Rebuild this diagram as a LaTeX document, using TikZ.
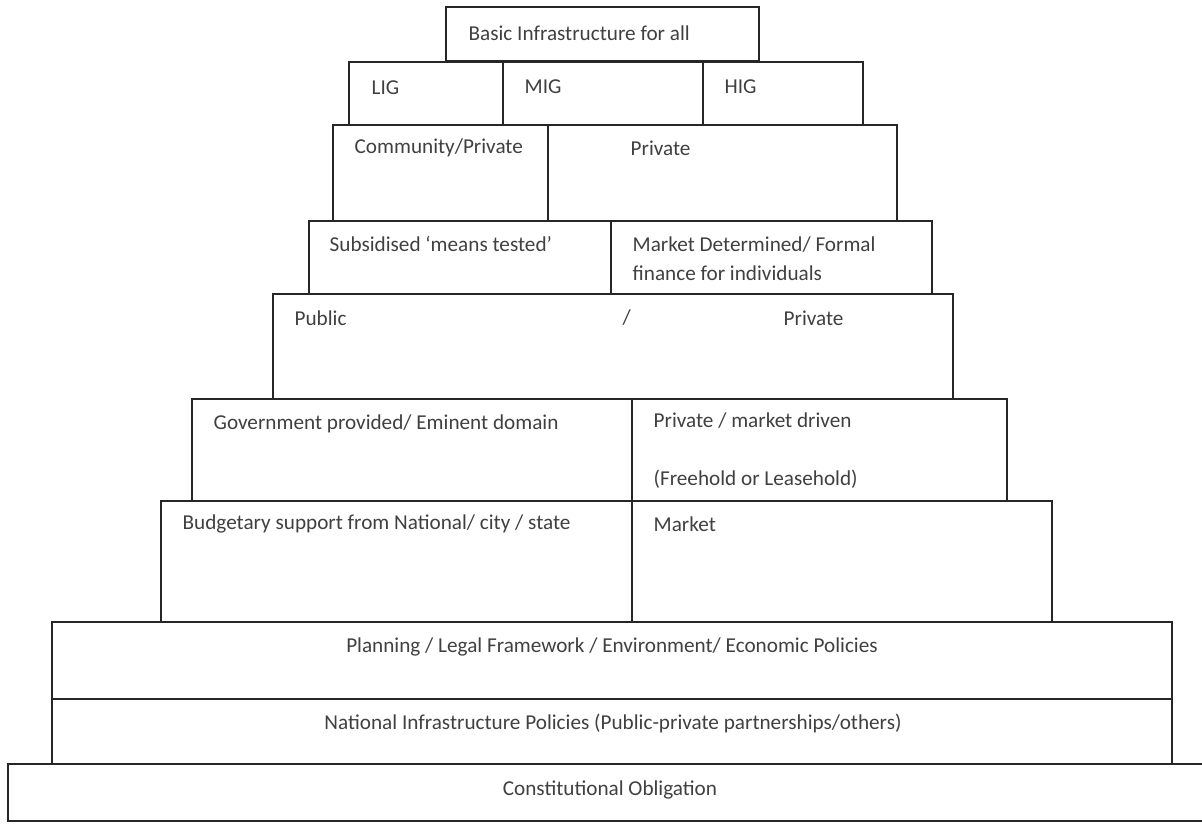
\documentclass[tikz,border=0pt]{standalone}
\usepackage{fontspec}
\setmainfont{Carlito}
\usepackage{tikz}
\usetikzlibrary{fit}

\begin{document}
\begin{tikzpicture}[x=1pt, y=-1pt, line width=1.3pt,
    blk/.style = {draw=black!85, rectangle, inner sep=0pt},
    lbl/.style = {anchor=west, inner sep=0pt, text=black!75, font=\fontsize{21.2}{29}\selectfont}]
    \useasboundingbox (0,0) rectangle (1202,823);

    % top rows
    \node [blk, fit={(446,7) (759,61)}] (top) {};
    \node [blk, fit={(349,62) (503,125)}] (lig) {};
    \node [blk, fit={(503,62) (703,125)}] (mig) {};
    \node [blk, fit={(703,62) (863,125)}] (hig) {};
    \node [blk, fit={(333,125) (548,221)}] (comm) {};
    \node [blk, fit={(548,125) (897,221)}] (priv) {};
    \node [blk, fit={(309,221) (611,294)}] (subs) {};
    \node [blk, fit={(611,221) (932,294)}] (mdet) {};
    \node [blk, fit={(273,294) (953,399)}] (pubpriv) {};
    \node [blk, fit={(192,399) (632,501)}] (gov) {};
    \node [blk, fit={(632,399) (1007,501)}] (mktdrv) {};
    \node [blk, fit={(161,501) (632,622)}] (budget) {};
    \node [blk, fit={(632,501) (1052,622)}] (market) {};

    % base rows
    \node [blk, fit={(52,622) (1172,699)}] (plan) {};
    \node [blk, fit={(52,699) (1172,764)}] (natinf) {};
    \node [blk, fit={(8,764) (1206,821)}] (const) {};

    \node [lbl] (ttop) at (468,33) {Basic Infrastructure for all};
    \node [lbl] (tlig) at (371,88) {LIG};
    \node [lbl] (tmig) at (524,87) {MIG};
    \node [lbl] (thig) at (724,87) {HIG};
    \node [lbl] (tcomm) at (354,148) {Community/Private};
    \node [lbl] (tpriv) at (630,148) {Private};
    \node [lbl] (tsubs) at (329,244) {Subsidised ‘means tested’};
    \node [lbl, align=left] (tmdet) at (632,259) {Market Determined/ Formal\\finance for individuals};
    \node [lbl] (tpub) at (294,318) {Public};
    \node [lbl] (tslash) at (622,318) {/};
    \node [lbl] (tpriv2) at (783,318) {Private};
    \node [lbl] (tgov) at (213,424) {Government provided/ Eminent domain};
    \node [lbl, align=left] (tmktdrv) at (653,451) {Private / market driven\\[29pt](Freehold or Leasehold)};
    \node [lbl] (tbudget) at (182,524) {Budgetary support from National/ city / state};
    \node [lbl] (tmarket) at (653,524) {Market};

    \node [lbl, anchor=center] (tplan) at (612,647) {Planning / Legal Framework / Environment/ Economic Policies};
    \node [lbl, anchor=center] (tnatinf) at (613,723) {National Infrastructure Policies (Public-private partnerships/others)};
    \node [lbl, anchor=center] (tconst) at (610,790) {Constitutional Obligation};

\end{tikzpicture}
\end{document}
